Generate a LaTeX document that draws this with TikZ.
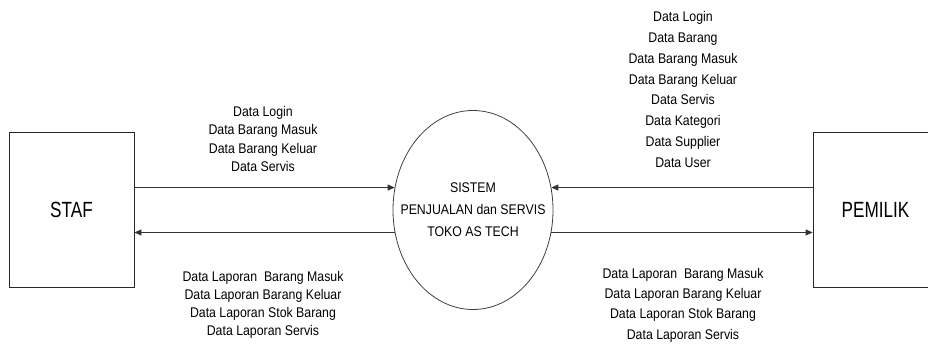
\documentclass[tikz,border=0pt]{standalone}
\usepackage{fontspec}
\usetikzlibrary{shapes.geometric,arrows.meta}
\newfontfamily\labelfont[FakeStretch=0.88]{Liberation Sans}
\newfontfamily\entityfont[FakeStretch=0.78]{Liberation Sans}
\tikzset{
  entity/.style={draw=black!85, line width=0.8pt, minimum width=125pt, minimum height=155pt, inner sep=0pt,
    font=\entityfont\fontsize{22}{26}\selectfont},
  proc/.style={draw=black!75, line width=0.8pt, ellipse, minimum width=160pt, minimum height=199pt,
    inner xsep=-17pt, inner ysep=0pt, align=center, font=\labelfont\fontsize{14}{22}\selectfont},
  flow/.style={draw=black!80, line width=0.8pt, -{Triangle[length=7pt,width=6pt]}},
  datalbl/.style={inner sep=0pt, align=center, font=\labelfont\fontsize{14}{#1}\selectfont},
  datalbl/.default=18.3
}
\begin{document}
\begin{tikzpicture}[x=1pt,y=-1pt]
\useasboundingbox (0,0) rectangle (928,345);
\clip (0,0) rectangle (928,345);

% entitas luar dan proses
\node[entity] (staf) at (71.5,209.5) {STAF};
\node[entity] (pemilik) at (875.5,209.5) {PEMILIK};
\node[proc] (sistem) at (473,210) {SISTEM\\PENJUALAN dan SERVIS\\TOKO AS TECH};

% aliran data
\draw[flow] (staf.east |- sistem.164) -- (sistem.164);
\draw[flow] (sistem.196) -- (staf.east |- sistem.196);
\draw[flow] (pemilik.west |- sistem.16) -- (sistem.16);
\draw[flow] (sistem.-16) -- (pemilik.west |- sistem.-16);

% label aliran
\node[datalbl] (inStaf) at (263,139) {Data Login\\Data Barang Masuk\\Data Barang Keluar\\Data Servis};
\node[datalbl=18] (outStaf) at (263,304.5) {Data Laporan~ Barang Masuk\\Data Laporan Barang Keluar\\Data Laporan Stok Barang\\Data Laporan Servis};
\node[datalbl=20.9] (inPemilik) at (683,89.5) {Data Login\\Data Barang\\Data Barang Masuk\\Data Barang Keluar\\Data Servis\\Data Kategori\\Data Supplier\\Data User};
\node[datalbl=20.3] (outPemilik) at (683,305) {Data Laporan~ Barang Masuk\\Data Laporan Barang Keluar\\Data Laporan Stok Barang\\Data Laporan Servis};

\end{tikzpicture}
\end{document}
